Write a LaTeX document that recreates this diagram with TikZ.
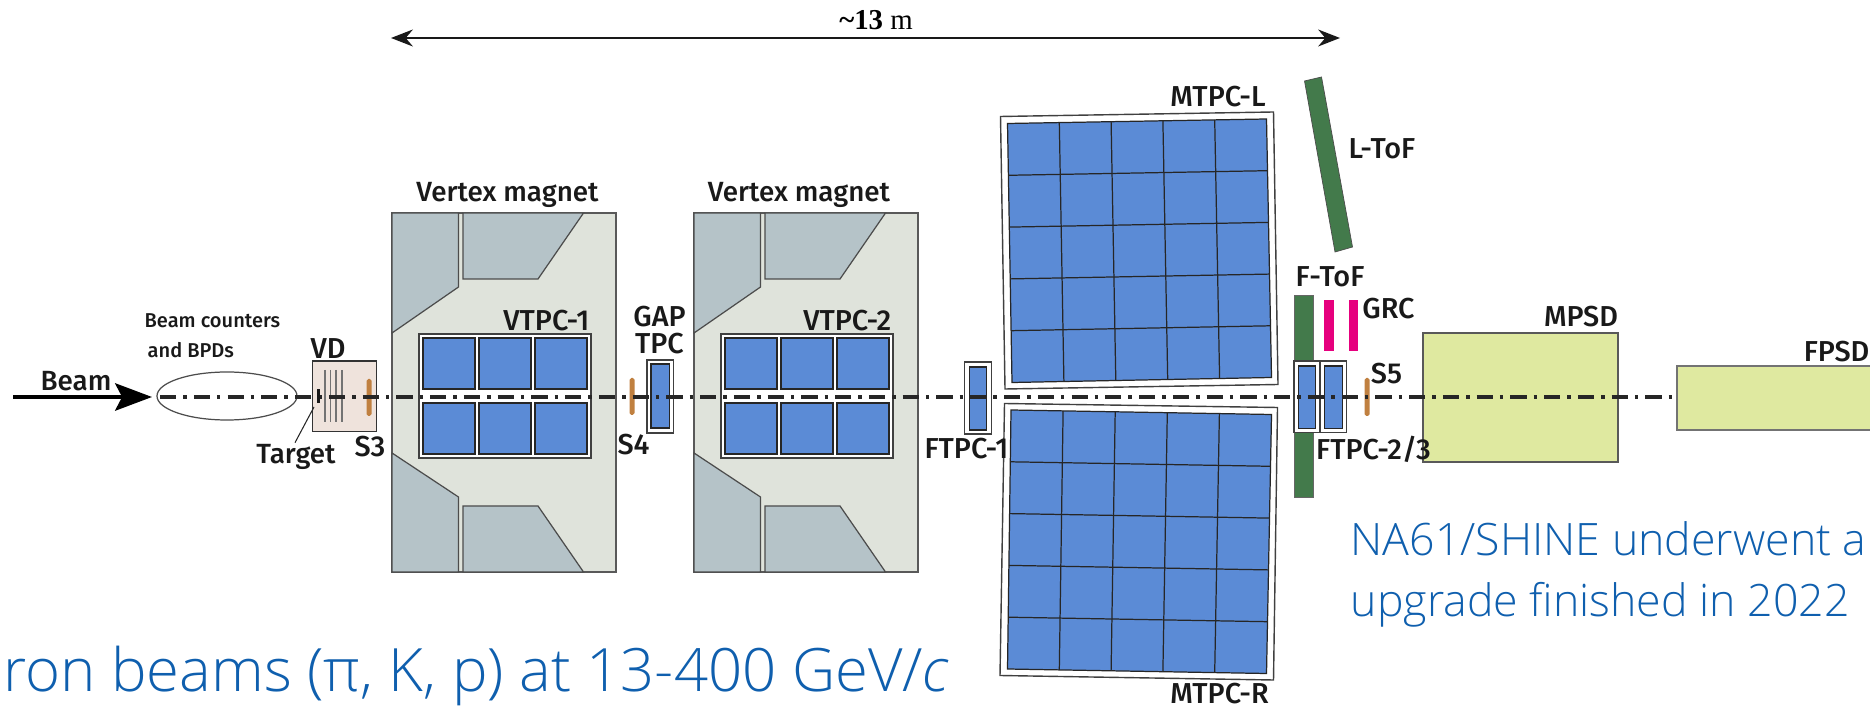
\documentclass[tikz,border=0pt]{standalone}
\usepackage{fontspec}
\setmainfont{Fira Sans Medium}
\newfontfamily\slidefont{Open Sans Light}
\newfontfamily\sizefont{Liberation Serif}
\usetikzlibrary{arrows.meta,calc}
\definecolor{tpcblue}{HTML}{5B8BD6}
\definecolor{magnetgrey}{HTML}{DFE3DB}
\definecolor{yokegrey}{HTML}{B5C3C8}
\definecolor{tofgreen}{HTML}{437A4B}
\definecolor{grcpink}{HTML}{E6007E}
\definecolor{psdgreen}{HTML}{DFE9A0}
\definecolor{vdbeige}{HTML}{EFE3DC}
\definecolor{slideblue}{HTML}{0F5FAE}
\definecolor{scintorange}{HTML}{C08040}
\tikzset{
  lab/.style={font=\fontsize{8.2}{9}\selectfont,inner sep=0pt,text=black!90},
  wordlab/.style={font=\fontsize{7.9}{9}\selectfont,inner sep=0pt,text=black!90},
  smalllab/.style={font=\fontsize{5.7}{6}\selectfont,inner sep=0pt,text=black!90},
  slidetext/.style={text=slideblue,inner sep=0pt,anchor=base west},
  frame/.style={draw=black!75,fill=white,line width=.4pt},
  cell/.style={draw=black!85,fill=tpcblue,line width=.35pt},
  magnet/.style={draw=black!65,fill=magnetgrey,line width=.4pt},
  yoke/.style={draw=black!70,fill=yokegrey,line width=.35pt},
  scint/.style={draw=none,fill=scintorange,rounded corners=.5pt},
}
\begin{document}
\begin{tikzpicture}[x=0.01cm,y=-0.01cm,line cap=butt,line join=miter]
\useasboundingbox (0,0) rectangle (1870,707);
% magnets with their TPCs
\foreach \dx in {0,302} {
\begin{scope}[xshift=\dx*0.01cm]
\draw[magnet] (392,213) rectangle (616,572);
\draw[yoke] (392,213) -- (458.5,213) -- (458.5,287) -- (392,333) -- cycle;
\draw[yoke] (463,213) -- (583.5,213) -- (538,279) -- (463,279) -- cycle;
\draw[yoke] (392,453) -- (458.5,497) -- (458.5,572) -- (392,572) -- cycle;
\draw[yoke] (463,506) -- (538,506) -- (583.5,572) -- (463,572) -- cycle;
\draw[frame] (419,334) rectangle (591,458);
\foreach \cx in {423,479,535} {
\draw[cell] (\cx,338) rectangle ++(52,51);
\draw[cell] (\cx,403) rectangle ++(52,51);
}
\end{scope}
}
% small TPCs
\draw[frame] (647,360) rectangle (673.5,433);
\draw[cell] (651,364) rectangle (669.5,428);
\draw[frame] (964.5,362) rectangle (991.5,434);
\draw[cell] (969.5,367) rectangle (986.5,430);
% F-ToF and L-ToF
\fill[tofgreen,draw=black!60,line width=.2pt] (1294.5,295) rectangle (1313,497);
\fill[tofgreen,draw=black!70,line width=.2pt] (1304.5,81) -- (1321.5,77) -- (1352.5,247) -- (1335,252) -- cycle;
\draw[frame] (1294,361) rectangle (1319.5,432.5);
\draw[cell] (1298.5,366) rectangle (1315.5,428.5);
\draw[frame] (1320.5,361) rectangle (1346.5,432.5);
\draw[cell] (1324.5,366) rectangle (1342.5,428.5);
\fill[grcpink] (1324,300) rectangle (1333.5,351);
\fill[grcpink] (1348.5,300) rectangle (1358,351);
% MTPC-L
\draw[frame] (1000.5,116.5) -- (1273.5,112) -- (1278,384.5) -- (1005,389) -- cycle;
\coordinate (la) at (1007.5,123.5);
\coordinate (lb) at (1266.5,119);
\coordinate (lc) at (1271.5,377.5);
\coordinate (ld) at (1012,382.5);
\draw[cell] (la) -- (lb) -- (lc) -- (ld) -- cycle;
\foreach \i in {1,...,4} {
\draw[cell] ($(la)!\i/5!(lb)$) -- ($(ld)!\i/5!(lc)$);
\draw[cell] ($(la)!\i/5!(ld)$) -- ($(lb)!\i/5!(lc)$);
}
% MTPC-R
\draw[frame] (1004.5,403.5) -- (1277.5,407.5) -- (1273.5,680) -- (1000,675.5) -- cycle;
\coordinate (ra) at (1011,410);
\coordinate (rb) at (1271.5,414.5);
\coordinate (rc) at (1266.5,673.5);
\coordinate (rd) at (1007.5,669);
\draw[cell] (ra) -- (rb) -- (rc) -- (rd) -- cycle;
\foreach \i in {1,...,4} {
\draw[cell] ($(ra)!\i/5!(rb)$) -- ($(rd)!\i/5!(rc)$);
\draw[cell] ($(ra)!\i/5!(rd)$) -- ($(rb)!\i/5!(rc)$);
}
% PSDs
\draw[draw=black!65,fill=psdgreen,line width=.4pt] (1423,333) rectangle (1618,462);
\draw[draw=black!55,fill=psdgreen,line width=.4pt] (1677,366) rectangle (1875,430);
% upstream part
\draw[black!70,line width=.35pt] (227,396) ellipse (70 and 24);
\draw[draw=black!80,fill=vdbeige,line width=.5pt] (312.5,361) rectangle (376.5,431.5);
\foreach \vx in {325,330.5,336,342} {
\draw[black!55,line width=.35pt] (\vx,370) -- (\vx,422);
}
% scintillators
\fill[scint] (366.5,379) rectangle (371.5,416);
\fill[scint] (629.5,378) rectangle (634.5,415);
\fill[scint] (1364.5,378) rectangle (1369.5,416);
% beam line
\coordinate (linestart) at (160,397);
\coordinate (lineend) at (1677,397);
\draw[black!85,line width=1pt,dash pattern=on 4.6pt off 2pt on 1pt off 2pt] (linestart) -- (lineend);
\fill[black!90] (317,389) rectangle (320,403);
% labels
\node[wordlab] (vm1) at (507.5,195) {Vertex magnet};
\node[wordlab] (vm2) at (799,195) {Vertex magnet};
\node[lab,anchor=east] (vtpc1) at (590,321) {VTPC-1};
\node[lab,anchor=east] (vtpc2) at (892,321) {VTPC-2};
\node[lab] (gap) at (659.5,317) {GAP};
\node[lab] (gaptpc) at (659.5,344) {TPC};
\node[lab] (s3) at (370,447) {S3};
\node[lab] (s4) at (633.5,445) {S4};
\node[lab] (s5) at (1386.5,374) {S5};
\node[lab] (vd) at (328,349) {VD};
\node[wordlab] (target) at (296,457) {Target};
\node[wordlab] (beam) at (76,381) {Beam};
\node[smalllab,anchor=west] (counters) at (144,321) {Beam counters};
\node[smalllab,anchor=west] (bpds) at (147,350) {and BPDs};
\node[lab,anchor=east] (ftpc1) at (1009,449) {FTPC-1};
\node[lab] (ftpc23) at (1373.5,449) {FTPC-2/3};
\node[lab] (mtpcl) at (1218,97) {MTPC-L};
\node[lab] (mtpcr) at (1219.5,694) {MTPC-R};
\node[lab] (ltof) at (1382,149) {L-ToF};
\node[lab] (ftof) at (1330,277) {F-ToF};
\node[lab] (grc) at (1388.5,309) {GRC};
\node[lab] (mpsd) at (1581,317) {MPSD};
\node[lab,anchor=east] (fpsd) at (1870,352) {FPSD};
\node[inner sep=0pt,font=\sizefont\fontsize{8.2}{9}\selectfont] (size) at (876,20) {\textbf{\textasciitilde13} m};
% arrows
\coordinate (beamstart) at (13,397);
\coordinate (beamtip) at (152,397);
\draw[-{Stealth[length=10.5pt,width=7.8pt,inset=2pt]},line width=1pt] (beamstart) -- (beamtip);
\coordinate (sizeleft) at (391,38);
\coordinate (sizeright) at (1340,38);
\draw[{Stealth[length=6.2pt,width=4.8pt]}-{Stealth[length=6.2pt,width=4.8pt]},line width=.7pt,black!90] (sizeleft) -- (sizeright);
\coordinate (targetpt) at (314,407);
\draw[black!85,line width=.3pt] (target.north) ++(-1,-1) -- (targetpt);
% slide text
\node[slidetext,font=\slidefont\fontsize{12.7}{14}\selectfont] (upgrade1) at (1350,556) {NA61/SHINE underwent a};
\node[slidetext,font=\slidefont\fontsize{12.7}{14}\selectfont] (upgrade2) at (1350,616.5) {upgrade finished in 2022};
\node[slidetext,anchor=base east,font=\slidefont\fontsize{17}{20}\selectfont] (beams) at (950,692) {ron beams (π, K, p) at 13-400 GeV/\textit{c}};
\end{tikzpicture}
\end{document}
